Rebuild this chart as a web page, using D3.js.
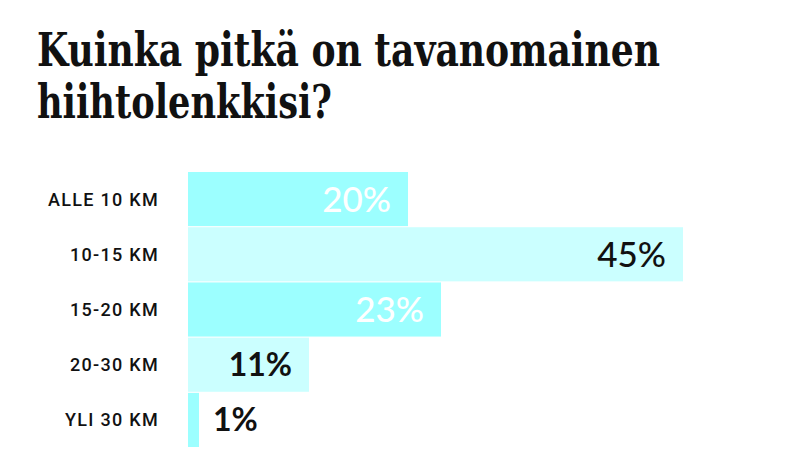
<!DOCTYPE html>
<html><head><meta charset="utf-8">
<script src="https://cdn.jsdelivr.net/npm/d3@7"></script>
<style>body{margin:0;background:#fff}svg{display:block}</style>
</head><body>
<script>
const titleLines = ["Kuinka pitkä on tavanomainen", "hiihtolenkkisi?"];
const categories = ["ALLE 10 KM", "10-15 KM", "15-20 KM", "20-30 KM", "YLI 30 KM"];
const values = [20, 45, 23, 11, 1];
const barColors = ["#9cffff", "#cbffff", "#9cffff", "#cbffff", "#9cffff"];
const labelColors = ["#ffffff", "#111111", "#ffffff", "#111111", "#111111"];
const labelWeights = [500, 500, 500, 700, 700];
const labelSizes = [35, 35, 35, 32, 32];

const W = 800, H = 454;
const svg = d3.select("body").append("svg").attr("width", W).attr("height", H);

const x = d3.scaleLinear().domain([0, 45]).range([188, 683]);
const y = d3.scaleBand().domain(categories).range([172, 447]).paddingInner(0.02).paddingOuter(0);

// Title
const tw = [623, 295];
const tb = [66, 118];
titleLines.forEach((t, i) => {
  svg.append("text").attr("x", 37).attr("y", tb[i])
    .attr("font-family", "'DejaVu Serif Condensed', 'DejaVu Serif', serif")
    .attr("font-size", 46).attr("font-weight", 700).attr("fill", "#111")
    .attr("textLength", tw[i]).attr("lengthAdjust", "spacingAndGlyphs")
    .text(t);
});

// Bars
svg.selectAll("rect.bar").data(values).join("rect")
  .attr("class", "bar")
  .attr("x", x(0))
  .attr("y", (d, i) => y(categories[i]))
  .attr("width", d => x(d) - x(0))
  .attr("height", y.bandwidth())
  .attr("fill", (d, i) => barColors[i]);

// Category axis
const axis = d3.axisLeft(y).tickSize(0).tickPadding(0);
const g = svg.append("g").attr("transform", "translate(159,0)").call(axis);
g.select(".domain").remove();
g.attr("font-size", null).attr("font-family", null);
g.selectAll("text")
  .style("font-family", "Roboto, 'Noto Sans', sans-serif")
  .style("font-size", "18px").style("font-weight", 500)
  .style("letter-spacing", "1.3px")
  .attr("fill", "#111").attr("dy", "0.36em");

// Value labels
svg.selectAll("text.val").data(values).join("text")
  .attr("class", "val")
  .attr("x", d => d >= 5 ? x(d) - 17 : x(d) + 14)
  .attr("y", (d, i) => y(categories[i]) + y.bandwidth() / 2)
  .attr("dy", "0.36em")
  .attr("text-anchor", d => d >= 5 ? "end" : "start")
  .attr("font-family", "Lato, 'Open Sans', sans-serif")
  .attr("font-size", (d, i) => labelSizes[i])
  .attr("font-weight", (d, i) => labelWeights[i])
  .attr("fill", (d, i) => labelColors[i])
  .text(d => d + "%");
</script>
</body></html>
